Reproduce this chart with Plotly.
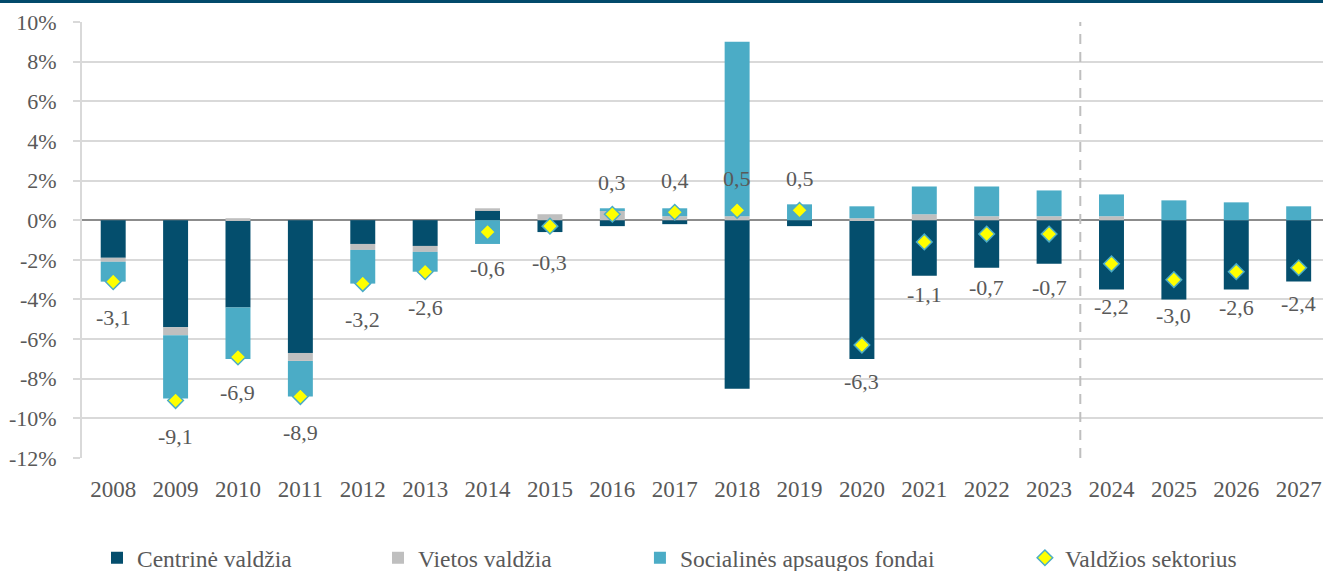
import plotly.graph_objects as go

years = ["2008", "2009", "2010", "2011", "2012", "2013", "2014", "2015", "2016", "2017",
         "2018", "2019", "2020", "2021", "2022", "2023", "2024", "2025", "2026", "2027"]
central = [-1.9, -5.4, -4.4, -6.7, -1.2, -1.3, 0.5, -0.6, -0.3, -0.2,
           -8.5, -0.3, -7.0, -2.8, -2.4, -2.2, -3.5, -4.0, -3.5, -3.1]
local = [-0.2, -0.4, 0.1, -0.4, -0.3, -0.3, 0.1, 0.3, 0.5, 0.2,
         0.2, 0.0, 0.1, 0.3, 0.2, 0.2, 0.2, 0.0, 0.0, 0.0]
social = [-1.0, -3.2, -2.6, -1.8, -1.7, -1.0, -1.2, 0.0, 0.1, 0.4,
          8.8, 0.8, 0.6, 1.4, 1.5, 1.3, 1.1, 1.0, 0.9, 0.7]
total = [-3.1, -9.1, -6.9, -8.9, -3.2, -2.6, -0.6, -0.3, 0.3, 0.4,
         0.5, 0.5, -6.3, -1.1, -0.7, -0.7, -2.2, -3.0, -2.6, -2.4]
y_ticks = [-12, -10, -8, -6, -4, -2, 0, 2, 4, 6, 8, 10]
y_tick_labels = ["-12%", "-10%", "-8%", "-6%", "-4%", "-2%", "0%", "2%", "4%", "6%", "8%", "10%"]
series_names = ["Centrinė valdžia", "Vietos valdžia", "Socialinės apsaugos fondai", "Valdžios sektorius"]

# style: vertical offset (px) of each data label from its marker
label_shift = []
for i, v in enumerate(total):
    if v >= 0:
        label_shift.append(32)
    elif years[i] in ("2021", "2022", "2023"):
        label_shift.append(-53)
    elif years[i] == "2024":
        label_shift.append(-43)
    else:
        label_shift.append(-36)

DARK = "#044E6D"
GREY = "#BFBFBF"
LIGHT = "#4BACC6"
TXT = "#595959"
FONT = "Liberation Serif, Times New Roman, serif"

fig = go.Figure()
for name, vals, col, lg in [(series_names[0], central, DARK, "legend"),
                            (series_names[1], local, GREY, "legend2"),
                            (series_names[2], social, LIGHT, "legend3")]:
    fig.add_trace(go.Bar(x=years, y=vals, name=name, marker=dict(color=col, line=dict(width=0)),
                         legend=lg))

fig.add_trace(go.Scatter(x=years, y=total, name=series_names[3], mode="markers",
                         marker=dict(symbol="diamond", size=12, color="#FFFF00",
                                     line=dict(color=LIGHT, width=1.5)),
                         legend="legend4"))

# data labels (category axis: annotations positioned by category index)
for i, (v, s) in enumerate(zip(total, label_shift)):
    fig.add_annotation(x=i, y=v, xref="x", yref="y", text=f"{v:.1f}".replace(".", ","),
                       showarrow=False, yshift=s,
                       font=dict(family=FONT, size=22, color=TXT))

# projection divider
fig.add_shape(type="line", xref="x", yref="paper", x0=15.5, x1=15.5, y0=0, y1=1,
              line=dict(color=GREY, width=2, dash="10px,8px"), layer="above")
# top band
fig.add_shape(type="rect", xref="paper", yref="paper", x0=-0.1, x1=1.1, y0=1.0436, y1=1.07,
              fillcolor="#024A6B", line=dict(width=0), layer="above")

leg_common = dict(orientation="h", yanchor="middle", y=0.0228, xanchor="left",
                  xref="container", yref="container",
                  font=dict(family=FONT, size=23.5, color=TXT), bgcolor="rgba(0,0,0,0)",
                  borderwidth=0)
fig.update_layout(
    width=1323, height=571,
    margin=dict(l=82, r=0, t=22, b=113, autoexpand=False),
    paper_bgcolor="white", plot_bgcolor="white",
    barmode="relative", bargap=0.6,
    showlegend=True,
    legend=dict(x=0.0733, **leg_common),
    legend2=dict(x=0.2857, **leg_common),
    legend3=dict(x=0.4837, **leg_common),
    legend4=dict(x=0.7747, **leg_common),
    font=dict(family=FONT, color=TXT),
    xaxis=dict(type="category", range=[-0.5, 19.39], showgrid=False, zeroline=False,
               showline=False, ticks="", ticklabelstandoff=15,
               tickfont=dict(family=FONT, size=23, color=TXT)),
    yaxis=dict(range=[-12, 10], tickvals=y_ticks, ticktext=y_tick_labels,
               showgrid=True, gridcolor="#D9D9D9", gridwidth=1.5,
               zeroline=True, zerolinecolor="#8C8C8C", zerolinewidth=2,
               showline=True, linecolor="#D9D9D9", linewidth=2,
               ticks="outside", ticklen=7, tickcolor="#D9D9D9", tickwidth=1.5,
               ticklabelstandoff=12,
               tickfont=dict(family=FONT, size=22, color=TXT)),
)

fig.write_html("out.html", config={"displayModeBar": False},
               post_script="document.body.style.margin='0';document.body.style.overflow='hidden';")
